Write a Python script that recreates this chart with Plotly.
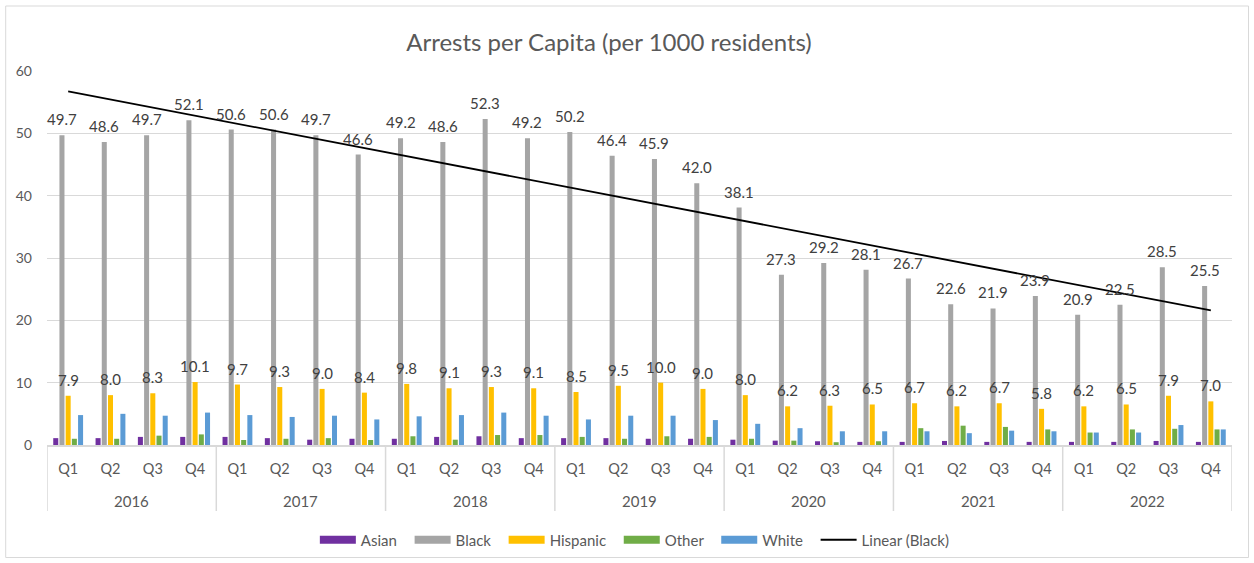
import numpy as np
import plotly.graph_objects as go

# ---------------- data ----------------
years = ["2016", "2017", "2018", "2019", "2020", "2021", "2022"]
quarters = ["Q1", "Q2", "Q3", "Q4"]

asian = [1.1, 1.1, 1.3, 1.3, 1.3, 1.1, 0.85, 1.0, 1.0, 1.3, 1.4, 1.1, 1.1, 1.1,
         1.0, 1.0, 0.85, 0.7, 0.6, 0.5, 0.5, 0.65, 0.5, 0.5, 0.5, 0.5, 0.65, 0.5]
black = [49.7, 48.6, 49.7, 52.1, 50.6, 50.6, 49.7, 46.6, 49.2, 48.6, 52.3, 49.2,
         50.2, 46.4, 45.9, 42.0, 38.1, 27.3, 29.2, 28.1, 26.7, 22.6, 21.9, 23.9,
         20.9, 22.5, 28.5, 25.5]
hispanic = [7.9, 8.0, 8.3, 10.1, 9.7, 9.3, 9.0, 8.4, 9.8, 9.1, 9.3, 9.1, 8.5, 9.5,
            10.0, 9.0, 8.0, 6.2, 6.3, 6.5, 6.7, 6.2, 6.7, 5.8, 6.2, 6.5, 7.9, 7.0]
other = [1.0, 1.0, 1.5, 1.7, 0.8, 1.0, 1.1, 0.8, 1.4, 0.85, 1.6, 1.6, 1.3, 1.0,
         1.4, 1.3, 1.0, 0.7, 0.45, 0.6, 2.7, 3.1, 2.9, 2.5, 2.0, 2.5, 2.6, 2.5]
white = [4.8, 5.0, 4.7, 5.2, 4.8, 4.5, 4.7, 4.1, 4.6, 4.8, 5.2, 4.7, 4.1, 4.7,
         4.7, 4.0, 3.4, 2.7, 2.2, 2.2, 2.2, 1.9, 2.3, 2.2, 2.0, 2.0, 3.2, 2.5]

series_names = ["Asian", "Black", "Hispanic", "Other", "White"]
series_vals = [asian, black, hispanic, other, white]
series_colors = ["#7030A0", "#A5A5A5", "#FFC000", "#70AD47", "#5B9BD5"]

title_text = "Arrests per Capita (per 1000 residents)"
trend_name = "Linear (Black)"

# ---------------- styling ----------------
FONT = "Lato"
GREY_TXT = "#595959"
LBL_TXT = "#404040"
GRID = "#D9D9D9"
BARGAP = 0.267
BARGROUPGAP = 0.19
LEGEND_PAD = "\u00a0" * 2

n = len(black)
xpos = np.arange(n)
qlabels = quarters * len(years)

fig = go.Figure()

for name, vals, col in zip(series_names, series_vals, series_colors):
    fig.add_trace(go.Bar(
        x=xpos, y=vals, name=name, showlegend=False,
        marker=dict(color=col, line=dict(width=0)),
    ))

# legend swatches (wide rectangles like Excel)
for name, col in zip(series_names, series_colors):
    fig.add_trace(go.Scatter(
        x=[None], y=[None], mode="lines", name=name + LEGEND_PAD,
        line=dict(color=col, width=8),
    ))

# linear trendline fitted on Black series
coef = np.polyfit(xpos, black, 1)
trend = np.polyval(coef, xpos)
fig.add_trace(go.Scatter(
    x=xpos, y=trend, mode="lines", name=trend_name,
    line=dict(color="#000000", width=1.8),
))

# data labels for Black and Hispanic
group_w = 1 - BARGAP
slot = group_w / len(series_names)
off_black = -group_w / 2 + 1.5 * slot
off_hisp = -group_w / 2 + 2.5 * slot
for i in range(n):
    for vals, off in ((black, off_black), (hispanic, off_hisp)):
        fig.add_annotation(
            x=xpos[i] + off, y=vals[i], text=f"{vals[i]:.1f}",
            showarrow=False, xanchor="center", yanchor="bottom", yshift=5,
            font=dict(family=FONT, size=15, color=LBL_TXT),
        )

# plot geometry (px) for paper-coordinate helpers
PLOT_TOP, PLOT_BOTTOM = 71, 445
PLOT_LEFT, PLOT_RIGHT = 47.3, 1232
ph = PLOT_BOTTOM - PLOT_TOP
pw = PLOT_RIGHT - PLOT_LEFT


def py(pix):
    return (PLOT_BOTTOM - pix) / ph


def px(pix):
    return (pix - PLOT_LEFT) / pw


# year labels and dividers (multi-level category axis)
nq = len(quarters)
for k, yr in enumerate(years):
    fig.add_annotation(
        x=k * nq + (nq - 1) / 2, y=py(501), xref="x", yref="paper",
        text=yr, showarrow=False, yanchor="middle",
        font=dict(family=FONT, size=15, color=GREY_TXT),
    )
for k in range(len(years) + 1):
    xd = k * nq - 0.5
    fig.add_shape(type="line", xref="x", yref="paper", x0=xd, x1=xd,
                  y0=0, y1=py(511), line=dict(color=GRID, width=1.5))

# chart-area border
fig.add_shape(type="rect", xref="paper", yref="paper",
              x0=px(6), x1=px(1248.5), y0=py(557.5), y1=py(6),
              line=dict(color=GRID, width=1), layer="below")

fig.update_layout(
    width=1254, height=563,
    margin=dict(l=PLOT_LEFT, r=1254 - PLOT_RIGHT, t=PLOT_TOP, b=563 - PLOT_BOTTOM,
                pad=0, autoexpand=False),
    paper_bgcolor="white", plot_bgcolor="white",
    barmode="group", bargap=BARGAP, bargroupgap=BARGROUPGAP,
    font=dict(family=FONT, color=GREY_TXT),
    title=dict(text=title_text, x=609 / 1254, xref="container", xanchor="center",
               y=1 - 43 / 563, yref="container", yanchor="middle",
               font=dict(family=FONT, size=24, color=GREY_TXT)),
    xaxis=dict(range=[-0.5, n - 0.5], tickmode="array", tickvals=xpos, ticktext=qlabels,
               showgrid=False, zeroline=False, showline=True, linecolor=GRID, linewidth=1.5,
               ticks="", ticklabelstandoff=10,
               tickfont=dict(family=FONT, size=14.5, color=GREY_TXT)),
    yaxis=dict(range=[0, 60], dtick=10, showgrid=True, gridcolor=GRID, gridwidth=1,
               zeroline=False, showline=False, ticks="", ticklabelstandoff=14,
               tickfont=dict(family=FONT, size=14, color=GREY_TXT)),
    legend=dict(orientation="h", x=px(635), xanchor="center", y=py(540), yanchor="middle",
                font=dict(family=FONT, size=15, color=GREY_TXT), itemwidth=36,
                bgcolor="rgba(0,0,0,0)"),
    showlegend=True,
)

fig.write_html("out.html", post_script="document.body.style.margin='0';",
               config={"displayModeBar": False})
